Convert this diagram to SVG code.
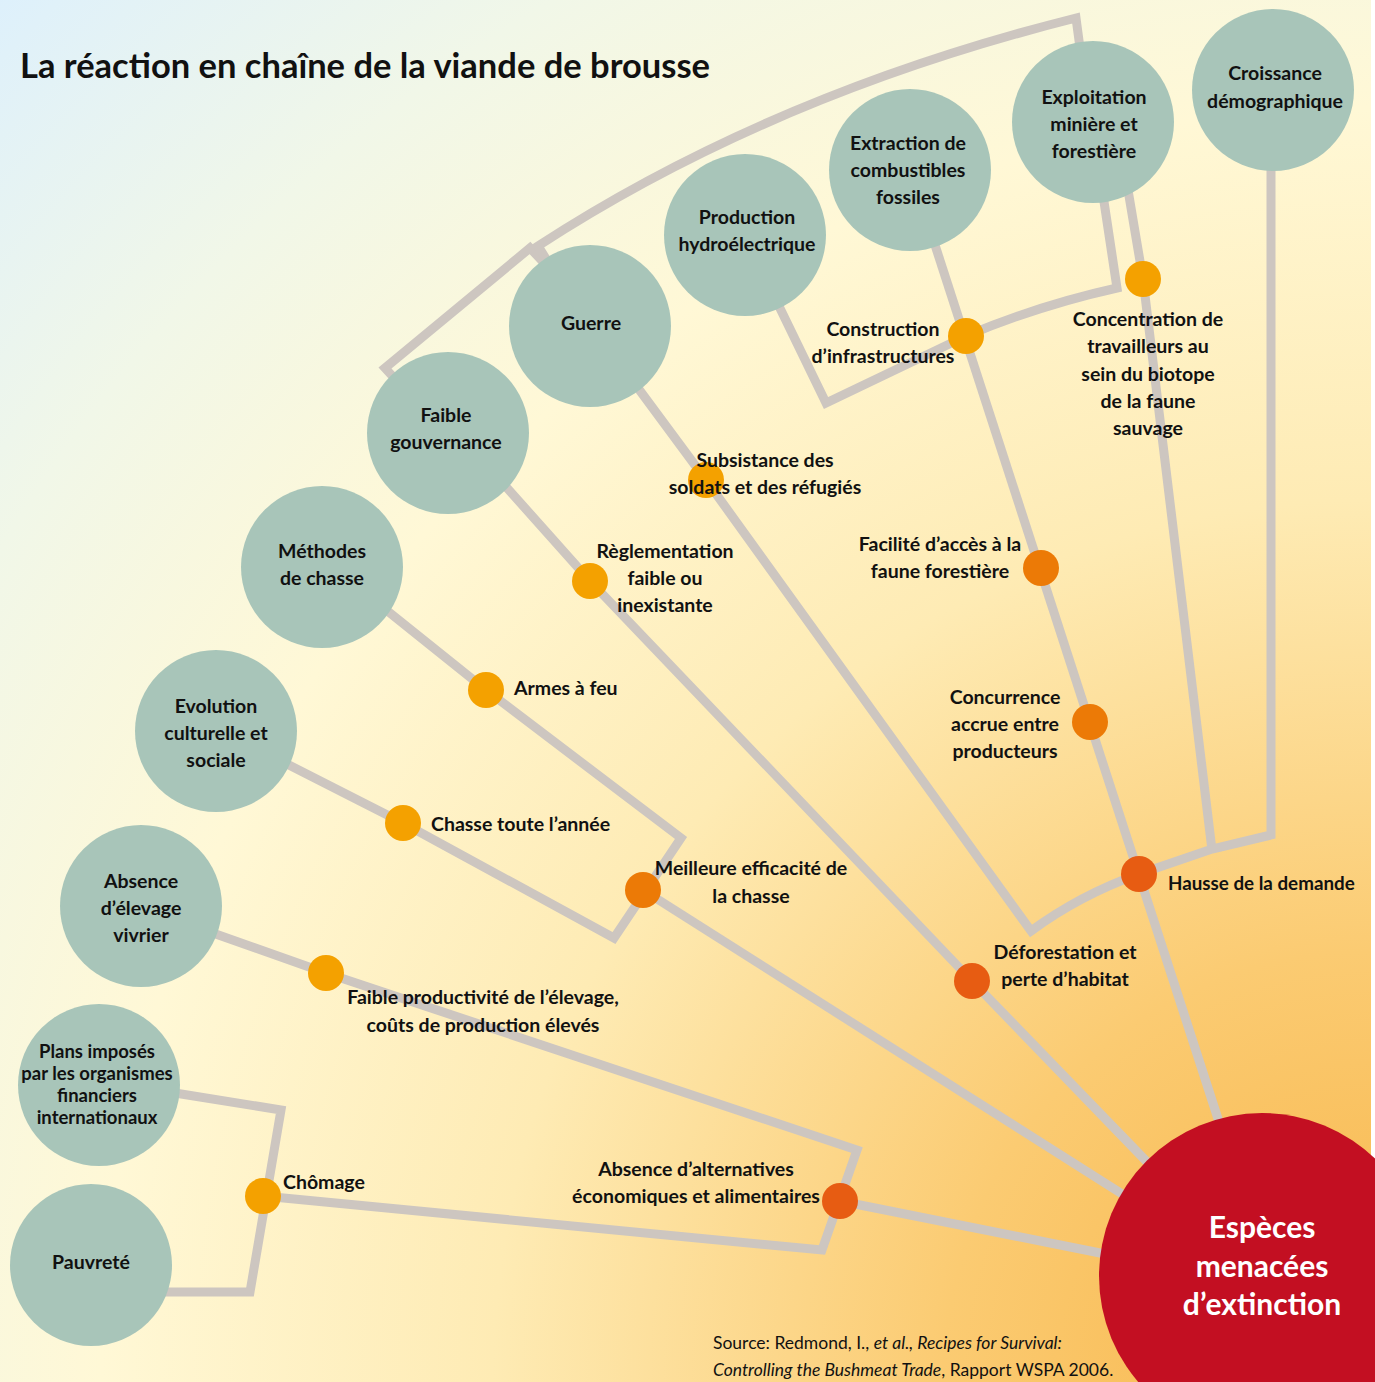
<svg xmlns="http://www.w3.org/2000/svg" width="1375" height="1382" viewBox="0 0 1375 1382">
<defs>
<radialGradient id="bg" gradientUnits="userSpaceOnUse" cx="1375" cy="1382" r="1960">
<stop offset="0" stop-color="#f7b447"/>
<stop offset="0.22" stop-color="#fbcb72"/>
<stop offset="0.45" stop-color="#feebb4"/>
<stop offset="0.65" stop-color="#fff8d6"/>
<stop offset="0.82" stop-color="#f1f7e8"/>
<stop offset="1" stop-color="#ddf0fc"/>
</radialGradient>
<style>
.c{fill:#a8c5b9}
.d1{fill:#f4a100}
.d2{fill:#ec7a06}
.d3{fill:#e75c12}
.ln{fill:none;stroke:#cdc6c0;stroke-width:9;stroke-linejoin:miter}
text{font-family:Lato,"Open Sans","Liberation Sans",sans-serif;font-weight:700;font-size:19.5px;fill:#111}
.t{font-size:35px}
.p{font-size:18.5px}
.h{font-size:18.8px}
.m{text-anchor:middle}
.w{fill:#fff;font-size:30px}
.s{font-weight:400;font-size:17.5px}
</style>
</defs>
<rect width="1375" height="1382" fill="#fff"/>
<rect width="1371" height="1382" fill="url(#bg)"/>
<text class="t" x="20" y="78" textLength="690" lengthAdjust="spacingAndGlyphs">La réaction en chaîne de la viande de brousse</text>
<g id="connectors">
<path class="ln" d="M396,380 L385,368 L530,248 L545,264"/>
<path class="ln" d="M548,262 L538,246 Q770,95 1076,18 L1080,48"/>
<path class="ln" d="M935,245 L1220,1125"/>
<path class="ln" d="M776,300 L826,403 L966,336 Q1040,305 1117,288 L1103,195"/>
<path class="ln" d="M1128,190 L1143,279 L1212,850"/>
<path class="ln" d="M1271,165 L1271,835 L1212,849 L1139,874"/>
<path class="ln" d="M635,384 L706,480 L1031,931 Q1080,895 1139,874"/>
<path class="ln" d="M500,480 L590,581 L972,981 L1150,1165"/>
<path class="ln" d="M380,605 L486,690 L681,838 L614,938 L403,823 L285,763"/>
<path class="ln" d="M643,890 L1160,1218"/>
<path class="ln" d="M210,932 L326,973 L857,1150 L822,1250 L263,1196"/>
<path class="ln" d="M840,1201 L1120,1257"/>
<path class="ln" d="M175,1093 L281,1110 L250,1292 L160,1292"/>
</g>
<g id="n-croissance"><circle class="c" cx="1273" cy="90" r="81"/><text class="m" x="1275" y="80">Croissance</text><text class="m" x="1275" y="108">démographique</text></g>
<g id="n-exploitation"><circle class="c" cx="1093" cy="122" r="81"/><text class="m" x="1094" y="104">Exploitation</text><text class="m" x="1094" y="131">minière et</text><text class="m" x="1094" y="158">forestière</text></g>
<g id="n-extraction"><circle class="c" cx="910" cy="170" r="81"/><text class="m" x="908" y="150">Extraction de</text><text class="m" x="908" y="177">combustibles</text><text class="m" x="908" y="204">fossiles</text></g>
<g id="n-production"><circle class="c" cx="745" cy="235" r="81"/><text class="m" x="747" y="224">Production</text><text class="m" x="747" y="251">hydroélectrique</text></g>
<g id="n-guerre"><circle class="c" cx="590" cy="326" r="81"/><text class="m" x="591" y="330">Guerre</text></g>
<g id="n-gouvernance"><circle class="c" cx="448" cy="433" r="81"/><text class="m" x="446" y="422">Faible</text><text class="m" x="446" y="449">gouvernance</text></g>
<g id="n-methodes"><circle class="c" cx="322" cy="567" r="81"/><text class="m" x="322" y="558">Méthodes</text><text class="m" x="322" y="585">de chasse</text></g>
<g id="n-evolution"><circle class="c" cx="216" cy="731" r="81"/><text class="m" x="216" y="713">Evolution</text><text class="m" x="216" y="740">culturelle et</text><text class="m" x="216" y="767">sociale</text></g>
<g id="n-elevage"><circle class="c" cx="141" cy="906" r="81"/><text class="m" x="141" y="888">Absence</text><text class="m" x="141" y="915">d’élevage</text><text class="m" x="141" y="942">vivrier</text></g>
<g id="n-plans"><circle class="c" cx="99" cy="1085" r="81"/><text class="m p" x="97" y="1058">Plans imposés</text><text class="m p" x="97" y="1080">par les organismes</text><text class="m p" x="97" y="1102">financiers</text><text class="m p" x="97" y="1124">internationaux</text></g>
<g id="n-pauvrete"><circle class="c" cx="91" cy="1265" r="81"/><text class="m" x="91" y="1269">Pauvreté</text></g>
<g id="n-especes"><circle fill="#c30f22" cx="1262" cy="1276" r="163"/><text class="m w" x="1262" y="1238">Espèces</text><text class="m w" x="1262" y="1277">menacées</text><text class="m w" x="1262" y="1315">d’extinction</text></g>
<g id="n-construction"><circle class="d1" cx="966" cy="336" r="18"/><text class="m" x="883" y="336">Construction</text><text class="m" x="883" y="363">d’infrastructures</text></g>
<g id="n-concentration"><circle class="d1" cx="1143" cy="279" r="18"/><text class="m" x="1148" y="326">Concentration de</text><text class="m" x="1148" y="353">travailleurs au</text><text class="m" x="1148" y="381">sein du biotope</text><text class="m" x="1148" y="408">de la faune</text><text class="m" x="1148" y="435">sauvage</text></g>
<g id="n-subsistance"><circle class="d1" cx="706" cy="480" r="18"/><text class="m" x="765" y="467">Subsistance des</text><text class="m" x="765" y="494">soldats et des réfugiés</text></g>
<g id="n-reglementation"><circle class="d1" cx="590" cy="581" r="18"/><text class="m" x="665" y="558">Règlementation</text><text class="m" x="665" y="585">faible ou</text><text class="m" x="665" y="612">inexistante</text></g>
<g id="n-armes"><circle class="d1" cx="486" cy="690" r="18"/><text x="514" y="695">Armes à feu</text></g>
<g id="n-chasse"><circle class="d1" cx="403" cy="823" r="18"/><text x="431" y="831">Chasse toute l’année</text></g>
<g id="n-productivite"><circle class="d1" cx="326" cy="973" r="18"/><text class="m" x="483" y="1004">Faible productivité de l’élevage,</text><text class="m" x="483" y="1032">coûts de production élevés</text></g>
<g id="n-chomage"><circle class="d1" cx="263" cy="1196" r="18"/><text x="283" y="1189">Chômage</text></g>
<g id="n-facilite"><circle class="d2" cx="1041" cy="568" r="18"/><text class="m" x="940" y="551">Facilité d’accès à la</text><text class="m" x="940" y="578">faune forestière</text></g>
<g id="n-concurrence"><circle class="d2" cx="1090" cy="722" r="18"/><text class="m" x="1005" y="704">Concurrence</text><text class="m" x="1005" y="731">accrue entre</text><text class="m" x="1005" y="758">producteurs</text></g>
<g id="n-meilleure"><circle class="d2" cx="643" cy="890" r="18"/><text class="m" x="751" y="875">Meilleure efficacité de</text><text class="m" x="751" y="903">la chasse</text></g>
<g id="n-hausse"><circle class="d3" cx="1139" cy="874" r="18"/><text class="h" x="1168" y="890">Hausse de la demande</text></g>
<g id="n-deforestation"><circle class="d3" cx="972" cy="981" r="18"/><text class="m" x="1065" y="959">Déforestation et</text><text class="m" x="1065" y="986">perte d’habitat</text></g>
<g id="n-alternatives"><circle class="d3" cx="840" cy="1201" r="18"/><text class="m" x="696" y="1176">Absence d’alternatives</text><text class="m" x="696" y="1203">économiques et alimentaires</text></g>
<text class="s" x="713" y="1349">Source: Redmond, I., <tspan font-style="italic">et al., Recipes for Survival:</tspan></text>
<text class="s" x="713" y="1376"><tspan font-style="italic">Controlling the Bushmeat Trade</tspan>, Rapport WSPA 2006.</text>
</svg>
